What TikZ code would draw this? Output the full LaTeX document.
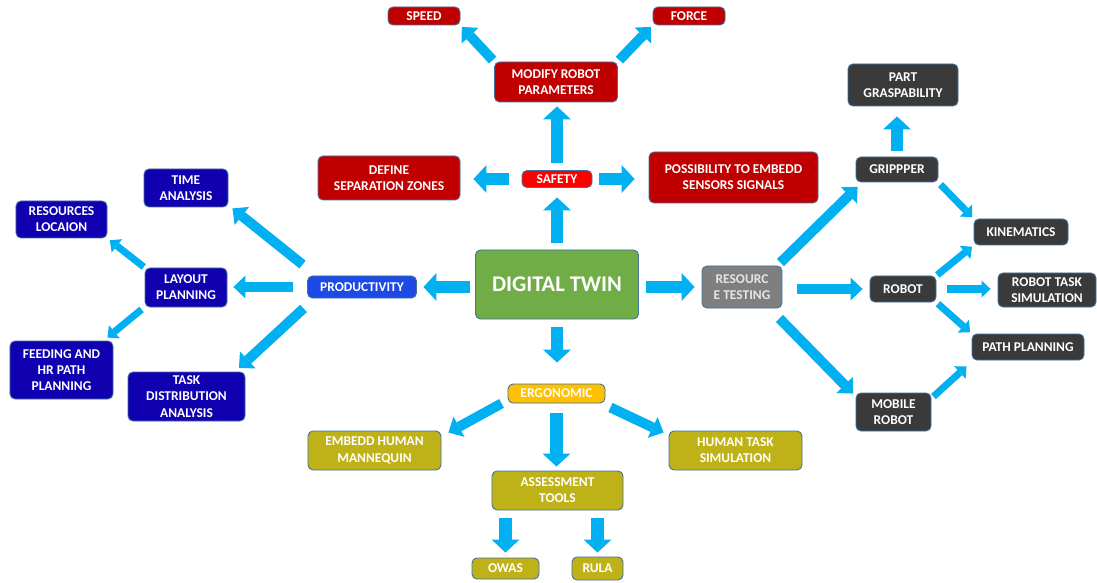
\documentclass[tikz,border=0pt]{standalone}
\usepackage{fontspec}
\setmainfont{Carlito}
\usetikzlibrary{arrows.meta,calc}

\definecolor{cRed}{HTML}{C00000}
\definecolor{cSafe}{HTML}{FF0000}
\definecolor{cNavy}{HTML}{1000B0}
\definecolor{cProd}{HTML}{1D4AE5}
\definecolor{cDark}{HTML}{3A3A3A}
\definecolor{cGray}{HTML}{7F7F7F}
\definecolor{cGreen}{HTML}{70AD47}
\definecolor{cAmber}{HTML}{FFC000}
\definecolor{cOlive}{HTML}{BFB219}
\definecolor{cArrow}{HTML}{00B0F0}
\definecolor{cEdge}{HTML}{41719C}

\begin{document}
\begin{tikzpicture}[x=1bp, y=-1bp,
  sz/.style 2 args={minimum width=#1bp, minimum height=#2bp},
  box/.style={draw=cEdge, line width=0.9bp, rounded corners=5bp, inner sep=0pt,
    align=center, text=white, font=\fontsize{13.5}{16.3}\selectfont\bfseries},
  boxRed/.style={box, fill=cRed},
  boxSafe/.style={box, fill=cSafe},
  boxNavy/.style={box, fill=cNavy},
  boxProd/.style={box, fill=cProd},
  boxDark/.style={box, fill=cDark},
  boxGray/.style={box, fill=cGray, text=white!90!black},
  boxGreen/.style={box, fill=cGreen},
  boxAmber/.style={box, fill=cAmber},
  boxOlive/.style={box, fill=cOlive},
  arrBig/.style={draw=cArrow, line width=12.5bp,
    -{Triangle[width=28bp, length=13bp, line width=0pt]}},
  arrMid/.style={draw=cArrow, line width=10bp,
    -{Triangle[width=23bp, length=12bp, line width=0pt]}},
  arrSmall/.style={draw=cArrow, line width=7bp,
    -{Triangle[width=17bp, length=9bp, line width=0pt]}}
]
\fill[white] (0,0) rectangle (1097,583);
\useasboundingbox (0,0) rectangle (1097,583);

% ---- centre ----
\node[boxGreen, sz={163}{69}, font=\fontsize{22.5}{26}\selectfont\bfseries] (dt) at (557,284.5) {DIGITAL TWIN};
\node[boxProd, sz={109}{22}] (prod) at (362,287) {PRODUCTIVITY};
\node[boxGray, sz={80}{42}] (res) at (742,287) {RESOURC\\E TESTING};

% ---- safety branch ----
\node[boxRed, sz={72}{18}] (speed) at (424,16) {SPEED};
\node[boxRed, sz={72}{18}] (force) at (689,16) {FORCE};
\node[boxRed, sz={123}{40}] (modify) at (556,82) {MODIFY ROBOT\\PARAMETERS};
\node[boxSafe, sz={70}{17}] (safety) at (557,179) {SAFETY};
\node[boxRed, sz={142}{44}] (zones) at (389,178) {DEFINE\\SEPARATION ZONES};
\node[boxRed, sz={169}{51}] (sensors) at (733.5,177.5) {POSSIBILITY TO EMBEDD\\SENSORS SIGNALS};

% ---- productivity branch ----
\node[boxNavy, sz={84}{38}] (time) at (186,188) {TIME\\ANALYSIS};
\node[boxNavy, sz={91}{37}] (loc) at (61.5,219.5) {RESOURCES\\LOCAION};
\node[boxNavy, sz={82}{39}] (layout) at (186,287.5) {LAYOUT\\PLANNING};
\node[boxNavy, sz={103}{58}] (feed) at (61.5,370) {FEEDING AND\\HR PATH\\PLANNING};
\node[boxNavy, sz={117}{49}] (task) at (186.5,396.5) {TASK\\DISTRIBUTION\\ANALYSIS};

% ---- resource testing branch ----
\node[boxDark, sz={110}{42}] (part) at (903,85) {PART\\GRASPABILITY};
\node[boxDark, sz={82}{25}] (grip) at (897,169.5) {GRIPPPER};
\node[boxDark, sz={94}{26}] (kin) at (1021,232) {KINEMATICS};
\node[boxDark, sz={66}{26}] (robot) at (903,289) {ROBOT};
\node[boxDark, sz={98}{34}] (rts) at (1047,290) {ROBOT TASK\\SIMULATION};
\node[boxDark, sz={112}{26}] (path) at (1028,347) {PATH PLANNING};
\node[boxDark, sz={75}{38}] (mobile) at (893.5,412) {MOBILE\\ROBOT};

% ---- ergonomic branch ----
\node[boxAmber, sz={97}{19}] (ergo) at (556.5,393.5) {ERGONOMIC};
\node[boxOlive, sz={133}{39}] (mann) at (374.5,450.5) {EMBEDD HUMAN\\MANNEQUIN};
\node[boxOlive, sz={133}{39}] (hts) at (735.5,450.5) {HUMAN TASK\\SIMULATION};
\node[boxOlive, sz={131}{39}] (tools) at (557.5,490.5) {ASSESSMENT\\TOOLS};
\node[boxOlive, sz={67}{21}] (owas) at (505.5,568.5) {OWAS};
\node[boxOlive, sz={51}{23}] (rula) at (597.5,568.5) {RULA};

% ---- arrows from the centre ----
\draw[arrBig, shorten <=7bp, shorten >=9.5bp] (dt.north) -- (safety.south);
\draw[arrBig, shorten <=5.5bp, shorten >=6.5bp] (dt.west |- prod) -- (prod.east);
\draw[arrBig, shorten <=7.5bp, shorten >=7bp] (dt.east |- res) -- (res.west);
\draw[arrBig, shorten <=7.5bp, shorten >=21bp] (dt.south) -- (dt.south |- ergo.north);

% ---- safety arrows ----
\draw[arrBig, shorten <=7.5bp, shorten >=4bp] (safety.north) -- (safety.north |- modify.south);
\draw[arrBig, shorten <=13bp, shorten >=13bp] (safety.west) -- (safety.west -| zones.east);
\draw[arrBig, shorten <=7bp, shorten >=14bp] (safety.east) -- (safety.east -| sensors.west);
\draw[arrMid, shorten <=2bp, shorten >=2bp] (modify.north west) -- (speed.south east);
\draw[arrMid, shorten <=2bp, shorten >=2bp] (modify.north east) -- (force.south west);

% ---- productivity arrows ----
\draw[arrMid] ($(prod.north west)+(-4.5,-11)$) -- ($(time.south east)+(4,1)$);
\draw[arrMid, shorten <=14.5bp, shorten >=6bp] (prod.west) -- (prod.west -| layout.east);
\draw[arrMid] ($(prod.south west)+(-3.5,10)$) -- ($(task.north east)+(-6.5,-3.5)$);
\draw[arrSmall, shorten <=1bp, shorten >=3bp] (layout.north west) -- (loc.south east);
\draw[arrSmall] ($(layout.south west)+(-3,2)$) -- ($(feed.north east)+(-6,-3)$);

% ---- resource testing arrows ----
\draw[arrMid] ($(res.north east)+(-2,-3)$) -- ($(grip.south west)+(2,4.5)$);
\draw[arrMid, shorten <=15bp, shorten >=7bp] (res.east |- robot) -- (robot.west);
\draw[arrMid] ($(res.south east)+(-3,10)$) -- ($(mobile.north west)+(-2.5,1)$);
\draw[arrBig, shorten <=6bp, shorten >=10bp] (grip.north) -- (grip.north |- part.south);
\draw[arrSmall, shorten <=3bp, shorten >=2bp] (grip.south east) -- (kin.north west);
\draw[arrSmall, shorten <=1bp, shorten >=2bp] (robot.north east) -- (kin.south west);
\draw[arrSmall, shorten <=11bp, shorten >=7bp] (robot.east) -- (robot.east -| rts.west);
\draw[arrSmall, shorten <=2bp, shorten >=2bp] (robot.south east) -- (path.north west);
\draw[arrSmall] ($(mobile.north east)+(2,4)$) -- ($(path.south west)+(-5,6)$);

% ---- ergonomic arrows ----
\draw[arrMid] ($(ergo.south west)+(-6,0)$) -- ($(mann.north east)+(7,2)$);
\draw[arrMid] ($(ergo.south east)+(5,4)$) -- ($(hts.north west)+(-5,2)$);
\draw[arrBig, shorten <=10bp, shorten >=4bp] (ergo.south) -- (ergo.south |- tools.north);
\draw[arrBig, shorten <=8bp, shorten >=5bp] (tools.south -| owas.north) -- (owas.north);
\draw[arrBig, shorten <=8bp, shorten >=4bp] (tools.south -| rula.north) -- (rula.north);
\end{tikzpicture}
\end{document}
